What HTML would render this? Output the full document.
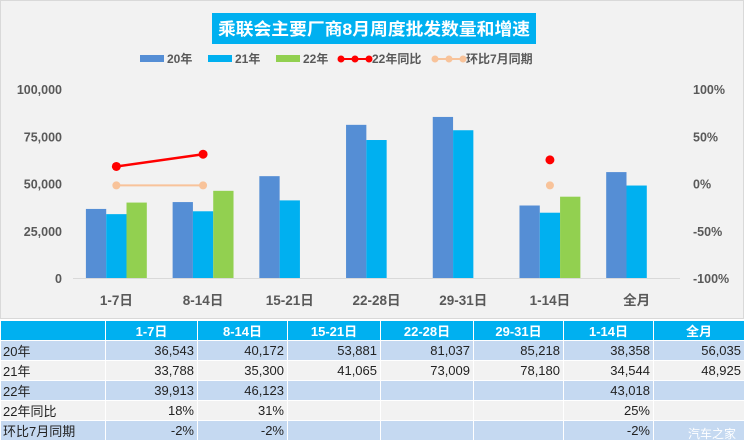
<!DOCTYPE html>
<html><head><meta charset="utf-8">
<style>
body{margin:0;width:744px;height:445px;background:#fff;font-family:"Liberation Sans","Noto Sans CJK SC",sans-serif;overflow:hidden;position:relative}
#chart{position:absolute;left:0;top:0}
table{position:absolute;left:0;top:321px;border-collapse:separate;border-spacing:1px 0;width:745px;font-size:13px;color:#222}
td{height:19px;padding:0 3px;text-align:right;border-bottom:1px solid #fff}
tr.h td{background:#00b0f0;color:#fff;font-weight:bold;text-align:center}
tr.b td{background:#c5d9f1}
tr.g td{background:#f2f2f2}
td.l{text-align:left;padding-left:2px}
#wm{position:absolute;right:8px;top:425px;color:#fff;font-size:12px}
</style></head><body>
<svg id="chart" width="744" height="320"></svg>
<table>
<colgroup><col style="width:104px"><col style="width:91px"><col style="width:89px"><col style="width:92px"><col style="width:92px"><col style="width:89px"><col style="width:89px"><col></colgroup>
<tr class="h"><td></td><td>1-7日</td><td>8-14日</td><td>15-21日</td><td>22-28日</td><td>29-31日</td><td>1-14日</td><td>全月</td></tr>
<tr class="b"><td class="l">20年</td><td>36,543</td><td>40,172</td><td>53,881</td><td>81,037</td><td>85,218</td><td>38,358</td><td>56,035</td></tr>
<tr class="g"><td class="l">21年</td><td>33,788</td><td>35,300</td><td>41,065</td><td>73,009</td><td>78,180</td><td>34,544</td><td>48,925</td></tr>
<tr class="b"><td class="l">22年</td><td>39,913</td><td>46,123</td><td></td><td></td><td></td><td>43,018</td><td></td></tr>
<tr class="g"><td class="l">22年同比</td><td>18%</td><td>31%</td><td></td><td></td><td></td><td>25%</td><td></td></tr>
<tr class="b"><td class="l">环比7月同期</td><td>-2%</td><td>-2%</td><td></td><td></td><td></td><td>-2%</td><td></td></tr>
</table>
<div id="wm">汽车之家</div>
<script>
const categories=["1-7日","8-14日","15-21日","22-28日","29-31日","1-14日","全月"];
const s20=[36543,40172,53881,81037,85218,38358,56035];
const s21=[33788,35300,41065,73009,78180,34544,48925];
const s22=[39913,46123,null,null,null,43018,null];
const yoy=[0.18,0.31,null,null,null,0.25,null];
const mom=[-0.02,-0.02,null,null,null,-0.02,null];
const leftTicks=[0,25000,50000,75000,100000];
const rightTicks=[-1,-0.5,0,0.5,1];
const NS="http://www.w3.org/2000/svg";
const svg=document.getElementById('chart');
const X0=73,X1=680,YB=278,YT=89;
const slot=(X1-X0)/categories.length,bw=20.3;
const y=v=>YB-(v/100000)*(YB-YT);
const yr=v=>YB-((v+1)/2)*(YB-YT);
const gx=i=>X0+slot*i+slot/2-1.5*bw;
function el(t,a,p){const e=document.createElementNS(NS,t);for(const k in a)e.setAttribute(k,a[k]);(p||svg).appendChild(e);return e;}
const bg=el('rect',{x:0.5,y:0.5,width:743,height:318,fill:'#f2f2f2',stroke:'#d9d9d9'});


const tb=el('rect',{x:212,y:13,width:324,height:31,fill:'#00b0f0'});


const tt=el('text',{x:374,y:35,'text-anchor':'middle','font-size':17,'font-weight':'bold',fill:'#fff',textLength:312,lengthAdjust:'spacingAndGlyphs'});
tt.textContent='乘联会主要厂商8月周度批发数量和增速';


// legend
const leg=[["20年",140,'#558ed5','bar'],["21年",208,'#00b0f0','bar'],["22年",276,'#92d050','bar'],["22年同比",341,'#ff0000','line'],["环比7月同期",435,'#f8c39a','line']];
leg.forEach(l=>{const g=el('g',{});


if(l[3]=='bar'){el('rect',{x:l[1],y:55,width:24,height:7,fill:l[2]},g);}
else{el('line',{x1:l[1],x2:l[1]+28,y1:59,y2:59,stroke:l[2],'stroke-width':2},g);[0,14,28].forEach(d=>el('circle',{cx:l[1]+d,cy:59,r:3.5,fill:l[2]},g));}
const t=el('text',{x:l[1]+(l[3]=='bar'?27:31),y:63,'font-size':12,'font-weight':'bold',fill:'#595959'},g);t.textContent=l[0];});
// axes
leftTicks.forEach(v=>{const t=el('text',{x:62,y:y(v)+5,'text-anchor':'end','font-size':12.5,'font-weight':'bold',fill:'#595959'});t.textContent=v.toLocaleString('en-US');

});
rightTicks.forEach(v=>{const t=el('text',{x:693,y:yr(v)+5,'font-size':12.5,'font-weight':'bold',fill:'#595959'});t.textContent=Math.round(v*100)+'%';

});
const ax=el('line',{x1:X0,x2:X1,y1:YB+0.5,y2:YB+0.5,stroke:'#d9d9d9'});


categories.forEach((c,i)=>{const t=el('text',{x:X0+slot*i+slot/2,y:305,'text-anchor':'middle','font-size':13.5,'font-weight':'bold',fill:'#595959'});t.textContent=c;

});
// bars
[[s20,'#558ed5'],[s21,'#00b0f0'],[s22,'#92d050']].forEach((s,k)=>{s[0].forEach((v,i)=>{if(v==null)return;
const r=el('rect',{x:gx(i)+k*bw,y:y(v),width:bw,height:YB-y(v),fill:s[1]});

});});
// lines
[[yoy,'#ff0000',2.5,4.5],[mom,'#f8c39a',2,4]].forEach(s=>{const cx=i=>X0+slot*i+slot/2;
for(let i=0;i<s[0].length-1;i++){if(s[0][i]!=null&&s[0][i+1]!=null){const l=el('line',{x1:cx(i),y1:yr(s[0][i]),x2:cx(i+1),y2:yr(s[0][i+1]),stroke:s[1],'stroke-width':s[2]});

}}
s[0].forEach((v,i)=>{if(v==null)return;const c=el('circle',{cx:cx(i),cy:yr(v),r:s[3],fill:s[1]});

});});
</script>
</body></html>
